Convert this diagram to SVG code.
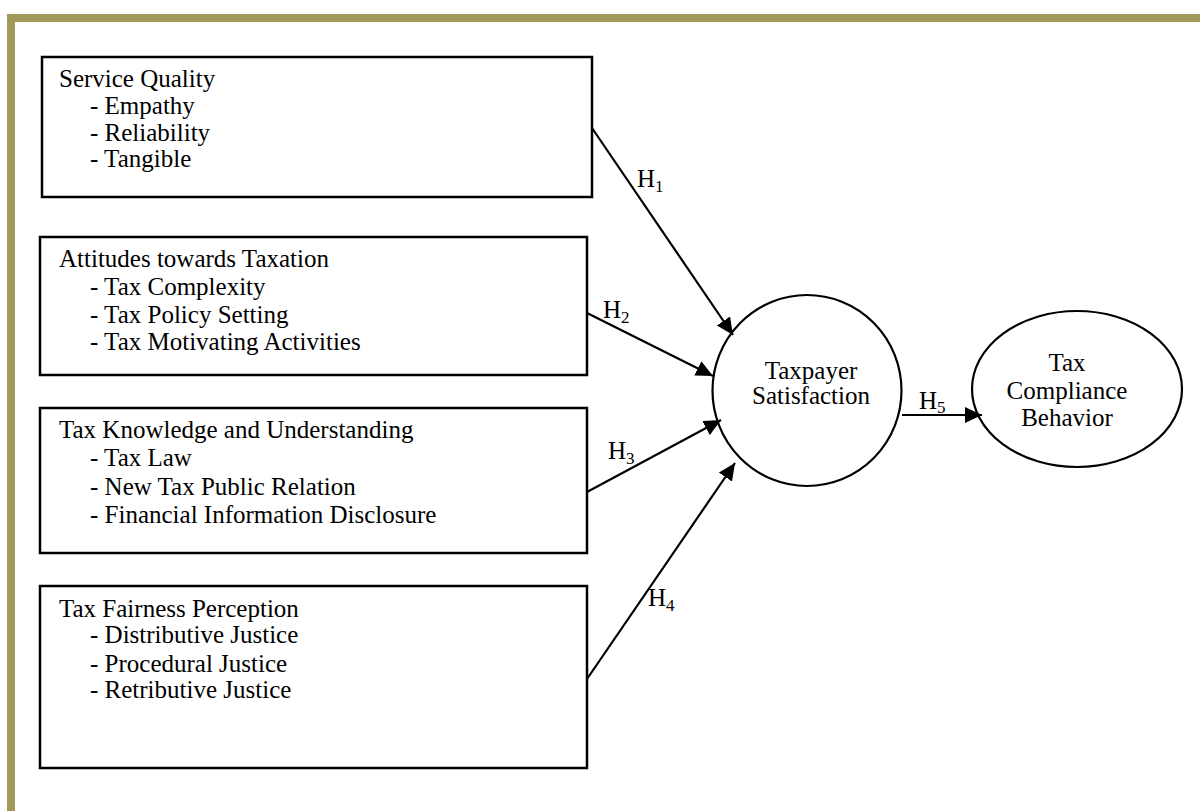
<svg xmlns="http://www.w3.org/2000/svg" width="1200" height="811" viewBox="0 0 1200 811">
<style>
  text { font-family: "Liberation Serif", "Times New Roman", serif; font-size: 25px; fill: #000; }
  .box { fill: #fff; stroke: #000; stroke-width: 2.5; }
  .node { fill: #fff; stroke: #000; stroke-width: 2.2; }
  .edge { stroke: #000; stroke-width: 2.2; fill: none; marker-end: url(#arrow); }
  .sub { font-size: 17px; }
  .mid { text-anchor: middle; }
</style>
<defs>
  <marker id="arrow" markerUnits="userSpaceOnUse" markerWidth="18" markerHeight="16" refX="17" refY="8" orient="auto">
    <path d="M0,0 L17,8 L0,16 Z" fill="#000"/>
  </marker>
</defs>
<rect x="0" y="0" width="1200" height="811" fill="#fff"/>
<g id="frame">
  <rect x="7" y="14" width="1193" height="8" fill="#a2995a"/>
  <rect x="7" y="14" width="8" height="797" fill="#a2995a"/>
</g>
<g id="service-quality">
  <rect class="box" x="42" y="57" width="550" height="140"/>
  <text x="59" y="87">Service Quality</text>
  <text x="90" y="114">- Empathy</text>
  <text x="90" y="141">- Reliability</text>
  <text x="90" y="167">- Tangible</text>
</g>
<g id="attitudes">
  <rect class="box" x="40" y="237" width="547" height="138"/>
  <text x="59" y="267">Attitudes towards Taxation</text>
  <text x="90" y="295">- Tax Complexity</text>
  <text x="90" y="323">- Tax Policy Setting</text>
  <text x="90" y="350">- Tax Motivating Activities</text>
</g>
<g id="knowledge">
  <rect class="box" x="40" y="408" width="547" height="145"/>
  <text x="59" y="438">Tax Knowledge and Understanding</text>
  <text x="90" y="466">- Tax Law</text>
  <text x="90" y="495">- New Tax Public Relation</text>
  <text x="90" y="523">- Financial Information Disclosure</text>
</g>
<g id="fairness">
  <rect class="box" x="40" y="586" width="547" height="182"/>
  <text x="59" y="617">Tax Fairness Perception</text>
  <text x="90" y="643">- Distributive Justice</text>
  <text x="90" y="672">- Procedural Justice</text>
  <text x="90" y="698">- Retributive Justice</text>
</g>
<g id="satisfaction">
  <ellipse class="node" cx="807" cy="390.5" rx="94.5" ry="95.5"/>
  <text class="mid" x="811" y="379">Taxpayer</text>
  <text class="mid" x="811" y="404">Satisfaction</text>
</g>
<g id="compliance">
  <ellipse class="node" cx="1077" cy="389" rx="105" ry="78"/>
  <text class="mid" x="1067" y="371">Tax</text>
  <text class="mid" x="1067" y="399">Compliance</text>
  <text class="mid" x="1067" y="426">Behavior</text>
</g>
<g id="connectors">
  <line class="edge" x1="592" y1="128" x2="733" y2="335"/>
  <line class="edge" x1="587" y1="313" x2="713" y2="376"/>
  <line class="edge" x1="587" y1="492" x2="721" y2="420"/>
  <line class="edge" x1="587" y1="679" x2="735" y2="463"/>
  <line class="edge" x1="902" y1="415" x2="982" y2="415"/>
  <text x="637" y="187">H<tspan class="sub" dy="5">1</tspan></text>
  <text x="603" y="318">H<tspan class="sub" dy="5">2</tspan></text>
  <text x="608" y="459">H<tspan class="sub" dy="5">3</tspan></text>
  <text x="648" y="606">H<tspan class="sub" dy="5">4</tspan></text>
  <text x="919" y="409">H<tspan class="sub" dy="4">5</tspan></text>
</g>
</svg>
